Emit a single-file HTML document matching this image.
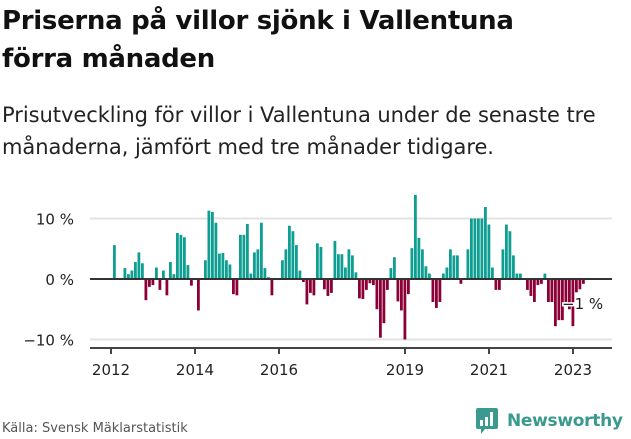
<!DOCTYPE html>
<html><head><meta charset="utf-8"><style>
body{margin:0;width:631px;height:439px;background:#fff;font-family:"Liberation Sans","DejaVu Sans",sans-serif;overflow:hidden;position:relative;color:#111}
h1{position:absolute;left:2px;top:2px;margin:0;font-size:26px;line-height:38px;font-weight:bold;font-family:"DejaVu Sans","Liberation Sans",sans-serif;letter-spacing:-0.3px}
.sub{position:absolute;left:2px;top:99px;margin:0;font-size:21px;line-height:32px;font-family:"DejaVu Sans","Liberation Sans",sans-serif;color:#222;letter-spacing:-0.05px;white-space:nowrap}
.src{position:absolute;left:2px;top:421px;font-size:13px;color:#555;font-family:"DejaVu Sans",sans-serif}
.logo{position:absolute;left:476px;top:408px;display:flex;align-items:center}
.logo span{font-size:17px;color:#3a9a8e;font-weight:bold;margin-left:9px;font-family:"DejaVu Sans",sans-serif;letter-spacing:-0.3px}
</style></head><body>
<h1>Priserna på villor sjönk i Vallentuna<br>förra månaden</h1>
<p class="sub">Prisutveckling för villor i Vallentuna under de senaste tre<br>månaderna, jämfört med tre månader tidigare.</p>
<svg id="chart" width="631" height="439" style="position:absolute;left:0;top:0"></svg>
<div class="src">Källa: Svensk Mäklarstatistik</div>
<div class="logo">
<svg width="22" height="26" viewBox="0 0 22 26"><path d="M2 0h18a2 2 0 0 1 2 2v17a2 2 0 0 1-2 2H9l-4 5v-5H2a2 2 0 0 1-2-2V2a2 2 0 0 1 2-2z" fill="#3a9a8e"/><rect x="4" y="12" width="3" height="6" fill="#fff"/><rect x="9" y="9" width="3" height="9" fill="#fff"/><rect x="14" y="4" width="3" height="14" fill="#fff"/></svg>
<span>Newsworthy</span></div>
<script>
const values=[5.6,0,0,1.8,0.8,1.4,2.8,4.4,2.6,-3.5,-1.3,-1,1.9,-1.8,1.4,-2.7,2.8,0.8,7.6,7.3,6.9,2.3,-1.1,0,-5.2,0,3.1,11.3,11.1,9.3,4.2,4.3,3.1,2.4,-2.5,-2.7,7.3,7.3,9.1,0.9,4.4,4.9,9.3,1.8,0.3,-2.7,0,0,3.1,4.9,8.8,7.9,5.6,1.4,-0.5,-4.2,-2.3,-2.7,5.9,5.3,-1.7,-2.8,-2.3,6.3,4.1,4.1,1.9,4.9,3.9,1.1,-3.2,-3.3,-1.8,-0.7,-1,-5,-9.7,-7.3,-1.8,1.8,3.6,-3.7,-5.2,-10,-2.5,5.1,13.9,6.8,4.9,2.1,0.9,-3.8,-4.8,-3.8,0.9,1.9,4.9,3.9,3.9,-0.8,0,4.9,10,10,10,10,11.9,9,1.9,-1.8,-1.8,4.9,9,7.9,3.9,0.9,0.9,0,-1.8,-2.8,-3.8,-1,-0.8,0.9,-3.8,-3.8,-7.8,-6.8,-6.8,-3.8,-5,-7.8,-2.2,-1.7,-0.8];
const startYear=2012;
const yTicks=[10,0,-10];
const yTickLabels=["10 %","0 %","−10 %"];
const xTickYears=[2012,2014,2016,2019,2021,2023];
const lastLabel="−1 %";
const NS="http://www.w3.org/2000/svg";
const svg=document.getElementById('chart');
function y(v){return 279-v*6.05;}
function x(i){return 113+i*3.5;}
function xYear(yr){return 111+(yr-startYear)*42;}
function mk(t,a){const e=document.createElementNS(NS,t);for(const k in a)e.setAttribute(k,a[k]);svg.appendChild(e);return e;}
yTicks.forEach((t,j)=>{
  if(t!==0){const g=mk('line',{x1:90,x2:612,y1:y(t),y2:y(t),stroke:'#e3e3e3','stroke-width':2});
  
  }
  const l=mk('text',{x:74,y:y(t)+6,'text-anchor':'end','font-size':15,fill:'#222','font-family':'DejaVu Sans, sans-serif'});
  l.textContent=yTickLabels[j];
  
  
});
values.forEach((v,i)=>{
  if(v===0)return;
  const r=mk('rect',{x:x(i),width:2.8,y:Math.min(y(v),y(0)),height:Math.abs(y(v)-y(0)),fill:v>0?'#0f9e92':'#8c0038'});
  
  
});
const z=mk('line',{x1:90,x2:612,y1:y(0),y2:y(0),stroke:'#333','stroke-width':2});


const ax=mk('line',{x1:90,x2:612,y1:348,y2:348,stroke:'#444','stroke-width':2});


xTickYears.forEach(yr=>{
  const t=mk('line',{x1:xYear(yr),x2:xYear(yr),y1:348,y2:354,stroke:'#444','stroke-width':2});
  
  
  const l=mk('text',{x:xYear(yr),y:375,'text-anchor':'middle','font-size':15,fill:'#222','font-family':'DejaVu Sans, sans-serif'});
  l.textContent=yr;
  
  
});
const lb=mk('text',{x:562,y:309,'font-size':15,fill:'#222',stroke:'#fff','stroke-width':3,'paint-order':'stroke','font-family':'DejaVu Sans, sans-serif'});
lb.textContent=lastLabel;


</script>
</body></html>
